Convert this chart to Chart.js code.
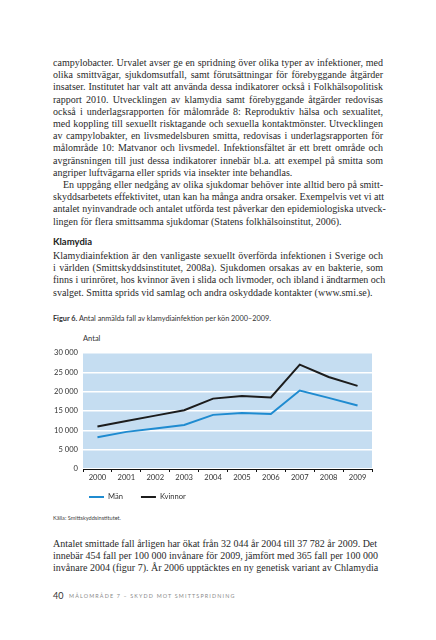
<!DOCTYPE html>
<html lang="sv">
<head>
<meta charset="utf-8">
<script src="https://cdn.jsdelivr.net/npm/chart.js@4.4.1/dist/chart.umd.min.js"></script>
<style>
  html, body { margin: 0; padding: 0; background: #fff; }
  body { width: 436px; height: 640px; position: relative; overflow: hidden; color: #2a2a2a; }
  .txt { position: absolute; left: 53px; width: 330px; font-family: "Liberation Serif", serif; font-size: 10px; line-height: 12.2px; }
  .txt div { text-align: justify; text-align-last: justify; white-space: nowrap; }
  .txt div.last { text-align-last: left; }
  .txt div.ind { text-indent: 10px; }
  .sans { font-family: Lato, "Noto Sans", sans-serif; position: absolute; }
  #chartBox { position: absolute; left: 0; top: 330px; width: 436px; height: 180px; }
</style>
</head>
<body>

<div class="txt" style="top:57px">
  <div>campylobacter. Urvalet avser ge en spridning över olika typer av infektioner, med</div>
  <div>olika smittvägar, sjukdomsutfall, samt förutsättningar för förebyggande åtgärder</div>
  <div>insatser. Institutet har valt att använda dessa indikatorer också i Folkhälsopolitisk</div>
  <div>rapport 2010. Utvecklingen av klamydia samt förebyggande åtgärder redovisas</div>
  <div>också i underlagsrapporten för målområde 8: Reproduktiv hälsa och sexualitet,</div>
  <div>med koppling till sexuellt risktagande och sexuella kontaktmönster. Utvecklingen</div>
  <div>av campylobakter, en livsmedelsburen smitta, redovisas i underlagsrapporten för</div>
  <div>målområde 10: Matvanor och livsmedel. Infektionsfältet är ett brett område och</div>
  <div>avgränsningen till just dessa indikatorer innebär bl.a. att exempel på smitta som</div>
  <div class="last">angriper luftvägarna eller sprids via insekter inte behandlas.</div>
  <div class="ind">En uppgång eller nedgång av olika sjukdomar behöver inte alltid bero på smitt-</div>
  <div>skyddsarbetets effektivitet, utan kan ha många andra orsaker. Exempelvis vet vi att</div>
  <div>antalet nyinvandrade och antalet utförda test påverkar den epidemiologiska utveck-</div>
  <div class="last">lingen för flera smittsamma sjukdomar (Statens folkhälsoinstitut, 2006).</div>
</div>

<div class="sans" style="left:53px; top:236px; font-size:9.5px; font-weight:bold; color:#222">Klamydia</div>

<div class="txt" style="top:250px">
  <div>Klamydiainfektion är den vanligaste sexuellt överförda infektionen i Sverige och</div>
  <div>i världen (Smittskyddsinstitutet, 2008a). Sjukdomen orsakas av en bakterie, som</div>
  <div>finns i urinröret, hos kvinnor även i slida och livmoder, och ibland i ändtarmen och</div>
  <div class="last">svalget. Smitta sprids vid samlag och andra oskyddade kontakter (www.smi.se).</div>
</div>

<div class="sans" style="left:53px; top:314px; font-size:7.3px; color:#333"><b>Figur 6.</b> Antal anmälda fall av klamydiainfektion per kön 2000–2009.</div>
<div class="sans" style="left:83px; top:334px; font-size:7.5px; color:#333">Antal</div>

<div id="chartBox"><canvas id="chart"></canvas></div>

<div class="sans" style="left:53px; top:514px; font-size:5.6px; color:#444">Källa: Smittskyddsinstitutet.</div>

<div class="txt" style="top:538px; width:324px">
  <div>Antalet smittade fall årligen har ökat från 32 044 år 2004 till 37 782 år 2009. Det</div>
  <div>innebär 454 fall per 100 000 invånare för 2009, jämfört med 365 fall per 100 000</div>
  <div>invånare 2004 (figur 7). År 2006 upptäcktes en ny genetisk variant av Chlamydia</div>
</div>

<div class="sans" style="left:53px; top:590px; font-size:9px; color:#333">40</div>
<div class="sans" style="left:69px; top:593px; font-size:5.4px; letter-spacing:1.15px; color:#8a8a8a">MÅLOMRÅDE 7 – SKYDD MOT SMITTSPRIDNING</div>

<script>
// data läst från figuren
const years = ['2000', '2001', '2002', '2003', '2004', '2005', '2006', '2007', '2008', '2009'];
const man = [8200, 9600, 10500, 11400, 14000, 14500, 14200, 20300, 18400, 16400];
const kvinnor = [11000, 12400, 13800, 15200, 18200, 18900, 18500, 27000, 23800, 21500];
const yTicks = [0, 5000, 10000, 15000, 20000, 25000, 30000];
const seriesNames = ['Män', 'Kvinnor'];

const labelFont = { family: 'Lato, "Noto Sans", sans-serif', size: 7.6 };

// ljusblå bakgrund i ritytan
const bakgrund = {
  id: 'bakgrund',
  beforeDraw(chart) {
    const { ctx, chartArea: a } = chart;
    ctx.save();
    ctx.fillStyle = '#c5ddf1';
    ctx.fillRect(a.left, a.top, a.right - a.left, a.bottom - a.top);
    ctx.restore();
  }
};

// enkel teckenförklaring under diagrammet
const forklaring = {
  id: 'forklaring',
  afterDraw(chart) {
    const { ctx, chartArea: a } = chart;
    const y = 167;
    let x = a.left + 6;
    ctx.save();
    ctx.font = '7.6px Lato, "Noto Sans", sans-serif';
    ctx.textBaseline = 'middle';
    chart.data.datasets.forEach(ds => {
      ctx.strokeStyle = ds.borderColor;
      ctx.lineWidth = 2;
      ctx.beginPath();
      ctx.moveTo(x, y);
      ctx.lineTo(x + 15, y);
      ctx.stroke();
      x += 19;
      ctx.fillStyle = '#333';
      ctx.fillText(ds.label, x, y);
      x += ctx.measureText(ds.label).width + 18;
    });
    ctx.restore();
  }
};

const ctx = document.getElementById('chart').getContext('2d');
new Chart(ctx, {
  type: 'line',
  data: {
    labels: years,
    datasets: [
      { label: seriesNames[0], data: man, borderColor: '#1f8bd0', borderWidth: 2, pointRadius: 0, tension: 0, fill: false },
      { label: seriesNames[1], data: kvinnor, borderColor: '#1c1c1c', borderWidth: 2, pointRadius: 0, tension: 0, fill: false }
    ]
  },
  options: {
    responsive: true,
    maintainAspectRatio: false,
    animation: false,
    layout: { padding: { left: 0, right: 64, top: 23, bottom: 0 } },
    plugins: { legend: { display: false }, tooltip: { enabled: false } },
    scales: {
      x: {
        offset: true,
        grid: { display: true, offset: true, drawOnChartArea: false, drawTicks: true, tickLength: 3, color: '#111' },
        border: { display: true, color: '#111', width: 1 },
        ticks: { color: '#333', font: labelFont, padding: 1, maxRotation: 0 },
        afterFit(scale) { scale.height = 41; }
      },
      y: {
        min: 0,
        max: 30000,
        afterBuildTicks(scale) { scale.ticks = yTicks.map(v => ({ value: v })); },
        grid: { color: '#ffffff', lineWidth: 1.5, drawTicks: false },
        border: { display: false },
        ticks: {
          color: '#333',
          font: labelFont,
          padding: 5,
          callback: v => String(v).replace(/\B(?=(\d{3})+(?!\d))/g, ' ')
        },
        afterFit(scale) { scale.width = 83; }
      }
    }
  },
  plugins: [bakgrund, forklaring]
});
</script>
</body>
</html>
